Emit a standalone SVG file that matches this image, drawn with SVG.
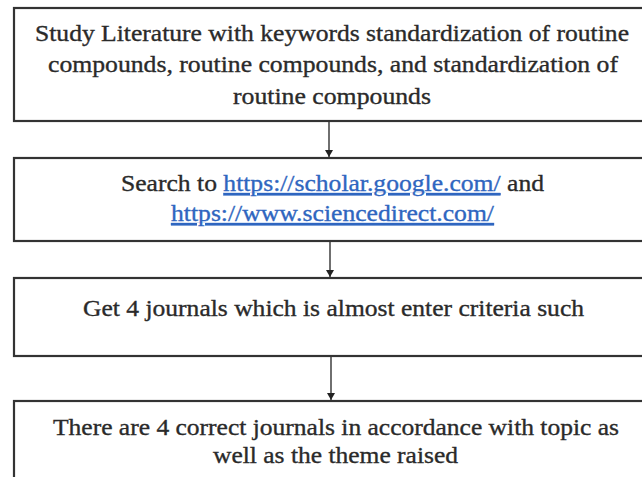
<svg xmlns="http://www.w3.org/2000/svg" width="642" height="477" viewBox="0 0 642 477">
<defs>
<style>
.box{fill:#fff;stroke:#333;stroke-width:2.2}
.t{font-family:"Liberation Serif","Times New Roman",serif;font-size:24px;fill:#2a2a2a;stroke:#2a2a2a;stroke-width:0.35;text-anchor:middle}
.lnk{fill:#2f66c0;stroke:#2f66c0;text-decoration:underline}
.c{stroke:#222;stroke-width:1.3;fill:none}
</style>
<marker id="ah" markerWidth="8" markerHeight="8" refX="7" refY="4" orient="auto" markerUnits="userSpaceOnUse">
<path d="M0,0 L7,4 L0,8 Z" fill="#222"/>
</marker>
</defs>
<rect width="642" height="477" fill="#fff"/>
<g id="connectors">
<line class="c" x1="329" y1="121" x2="329" y2="157" marker-end="url(#ah)"/>
<line class="c" x1="330" y1="241" x2="330" y2="277" marker-end="url(#ah)"/>
<line class="c" x1="331" y1="356" x2="331" y2="400" marker-end="url(#ah)"/>
</g>
<g id="n1">
<rect class="box" x="14" y="8" width="640" height="113"/>
<text class="t" x="332" y="41" textLength="594" lengthAdjust="spacingAndGlyphs">Study Literature with keywords standardization of routine</text>
<text class="t" x="333" y="72" textLength="570" lengthAdjust="spacingAndGlyphs">compounds, routine compounds, and standardization of</text>
<text class="t" x="332" y="104" textLength="198" lengthAdjust="spacingAndGlyphs">routine compounds</text>
</g>
<g id="n2">
<rect class="box" x="14" y="158" width="640" height="83"/>
<text class="t" x="332.5" y="191" textLength="423" lengthAdjust="spacingAndGlyphs">Search to <tspan class="lnk">https://scholar.google.com/</tspan> and</text>
<text class="t" x="332.5" y="221" textLength="323" lengthAdjust="spacingAndGlyphs"><tspan class="lnk">https://www.sciencedirect.com/</tspan></text>
</g>
<g id="n3">
<rect class="box" x="14" y="278" width="640" height="78"/>
<text class="t" x="333.5" y="316" textLength="501" lengthAdjust="spacingAndGlyphs">Get 4 journals which is almost enter criteria such</text>
</g>
<g id="n4">
<rect class="box" x="14" y="401" width="640" height="90"/>
<text class="t" x="336" y="435" textLength="566" lengthAdjust="spacingAndGlyphs">There are 4 correct journals in accordance with topic as</text>
<text class="t" x="335.5" y="463" textLength="245" lengthAdjust="spacingAndGlyphs">well as the theme raised</text>
</g>
</svg>
